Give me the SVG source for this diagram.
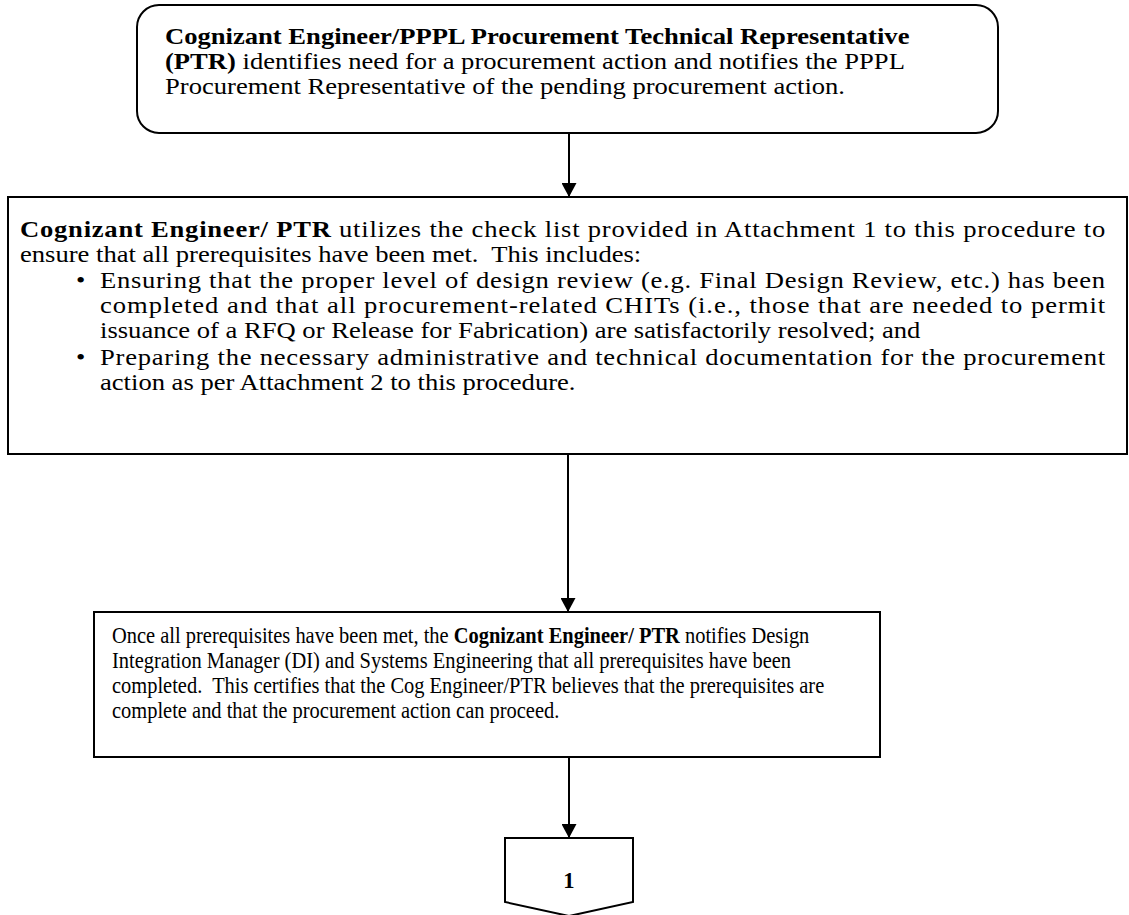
<svg xmlns="http://www.w3.org/2000/svg" width="1129" height="915" viewBox="0 0 1129 915">
  <style>
    .box { fill: #ffffff; stroke: #000000; stroke-width: 2; }
    .edge { stroke: #000000; stroke-width: 2; fill: none; }
    text { font-family: "Liberation Serif", "Times New Roman", serif; font-size: 22.6px; fill: #000000; white-space: pre; }
    .b { font-weight: bold; }
  </style>
  <defs>
    <marker id="arrow" viewBox="0 0 14 15" refX="14" refY="7.5" markerWidth="14" markerHeight="15" markerUnits="userSpaceOnUse" orient="auto">
      <path d="M0,0 L14,7.5 L0,15 Z" fill="#000000"/>
    </marker>
  </defs>

  <!-- connectors -->
  <g id="connectors">
    <line class="edge" x1="569" y1="133" x2="569" y2="197" marker-end="url(#arrow)"/>
    <line class="edge" x1="568" y1="454" x2="568" y2="612" marker-end="url(#arrow)"/>
    <line class="edge" x1="569" y1="757" x2="569" y2="838" marker-end="url(#arrow)"/>
  </g>

  <!-- start: need for procurement (text set wide) -->
  <g id="node-identify-need">
    <rect class="box" x="137" y="5" width="861" height="128" rx="22" ry="22"/>
    <text transform="matrix(1.177 0 0 1 165 44)"><tspan class="b">Cognizant Engineer/PPPL Procurement Technical Representative</tspan></text>
    <text transform="matrix(1.177 0 0 1 165 69)"><tspan class="b">(PTR)</tspan> identifies need for a procurement action and notifies the PPPL</text>
    <text transform="matrix(1.177 0 0 1 165 94)">Procurement Representative of the pending procurement action.</text>
  </g>

  <!-- prerequisite check list (justified, text set wide) -->
  <g id="node-checklist">
    <rect class="box" x="8" y="197" width="1119" height="257"/>
    <text transform="matrix(1.177 0 0 1 20 237)" textLength="922" lengthAdjust="spacing"><tspan class="b">Cognizant Engineer/ PTR</tspan> utilizes the check list provided in Attachment 1 to this procedure to</text>
    <text transform="matrix(1.177 0 0 1 20 262)">ensure that all prerequisites have been met.  This includes:</text>
    <text transform="matrix(1.177 0 0 1 76 288)">•</text>
    <text transform="matrix(1.177 0 0 1 100 288)" textLength="854" lengthAdjust="spacing">Ensuring that the proper level of design review (e.g. Final Design Review, etc.) has been</text>
    <text transform="matrix(1.177 0 0 1 100 313)" textLength="854" lengthAdjust="spacing">completed and that all procurement-related CHITs (i.e., those that are needed to permit</text>
    <text transform="matrix(1.177 0 0 1 100 338)">issuance of a RFQ or Release for Fabrication) are satisfactorily resolved; and</text>
    <text transform="matrix(1.177 0 0 1 76 365)">•</text>
    <text transform="matrix(1.177 0 0 1 100 365)" textLength="854" lengthAdjust="spacing">Preparing the necessary administrative and technical documentation for the procurement</text>
    <text transform="matrix(1.177 0 0 1 100 390)">action as per Attachment 2 to this procedure.</text>
  </g>

  <!-- prerequisites met notification (text set narrow) -->
  <g id="node-notify-di">
    <rect class="box" x="94" y="612" width="786" height="145"/>
    <text transform="matrix(0.905 0 0 1 112 643)">Once all prerequisites have been met, the <tspan class="b">Cognizant Engineer/ PTR</tspan> notifies Design</text>
    <text transform="matrix(0.905 0 0 1 112 668)">Integration Manager (DI) and Systems Engineering that all prerequisites have been</text>
    <text transform="matrix(0.905 0 0 1 112 693)">completed.  This certifies that the Cog Engineer/PTR believes that the prerequisites are</text>
    <text transform="matrix(0.905 0 0 1 112 718)">complete and that the procurement action can proceed.</text>
  </g>

  <!-- off-page connector -->
  <g id="node-offpage-1">
    <path class="box" d="M505,838 L633,838 L633,902 L569,916 L505,902 Z"/>
    <text class="b" x="569" y="888" text-anchor="middle">1</text>
  </g>
</svg>
